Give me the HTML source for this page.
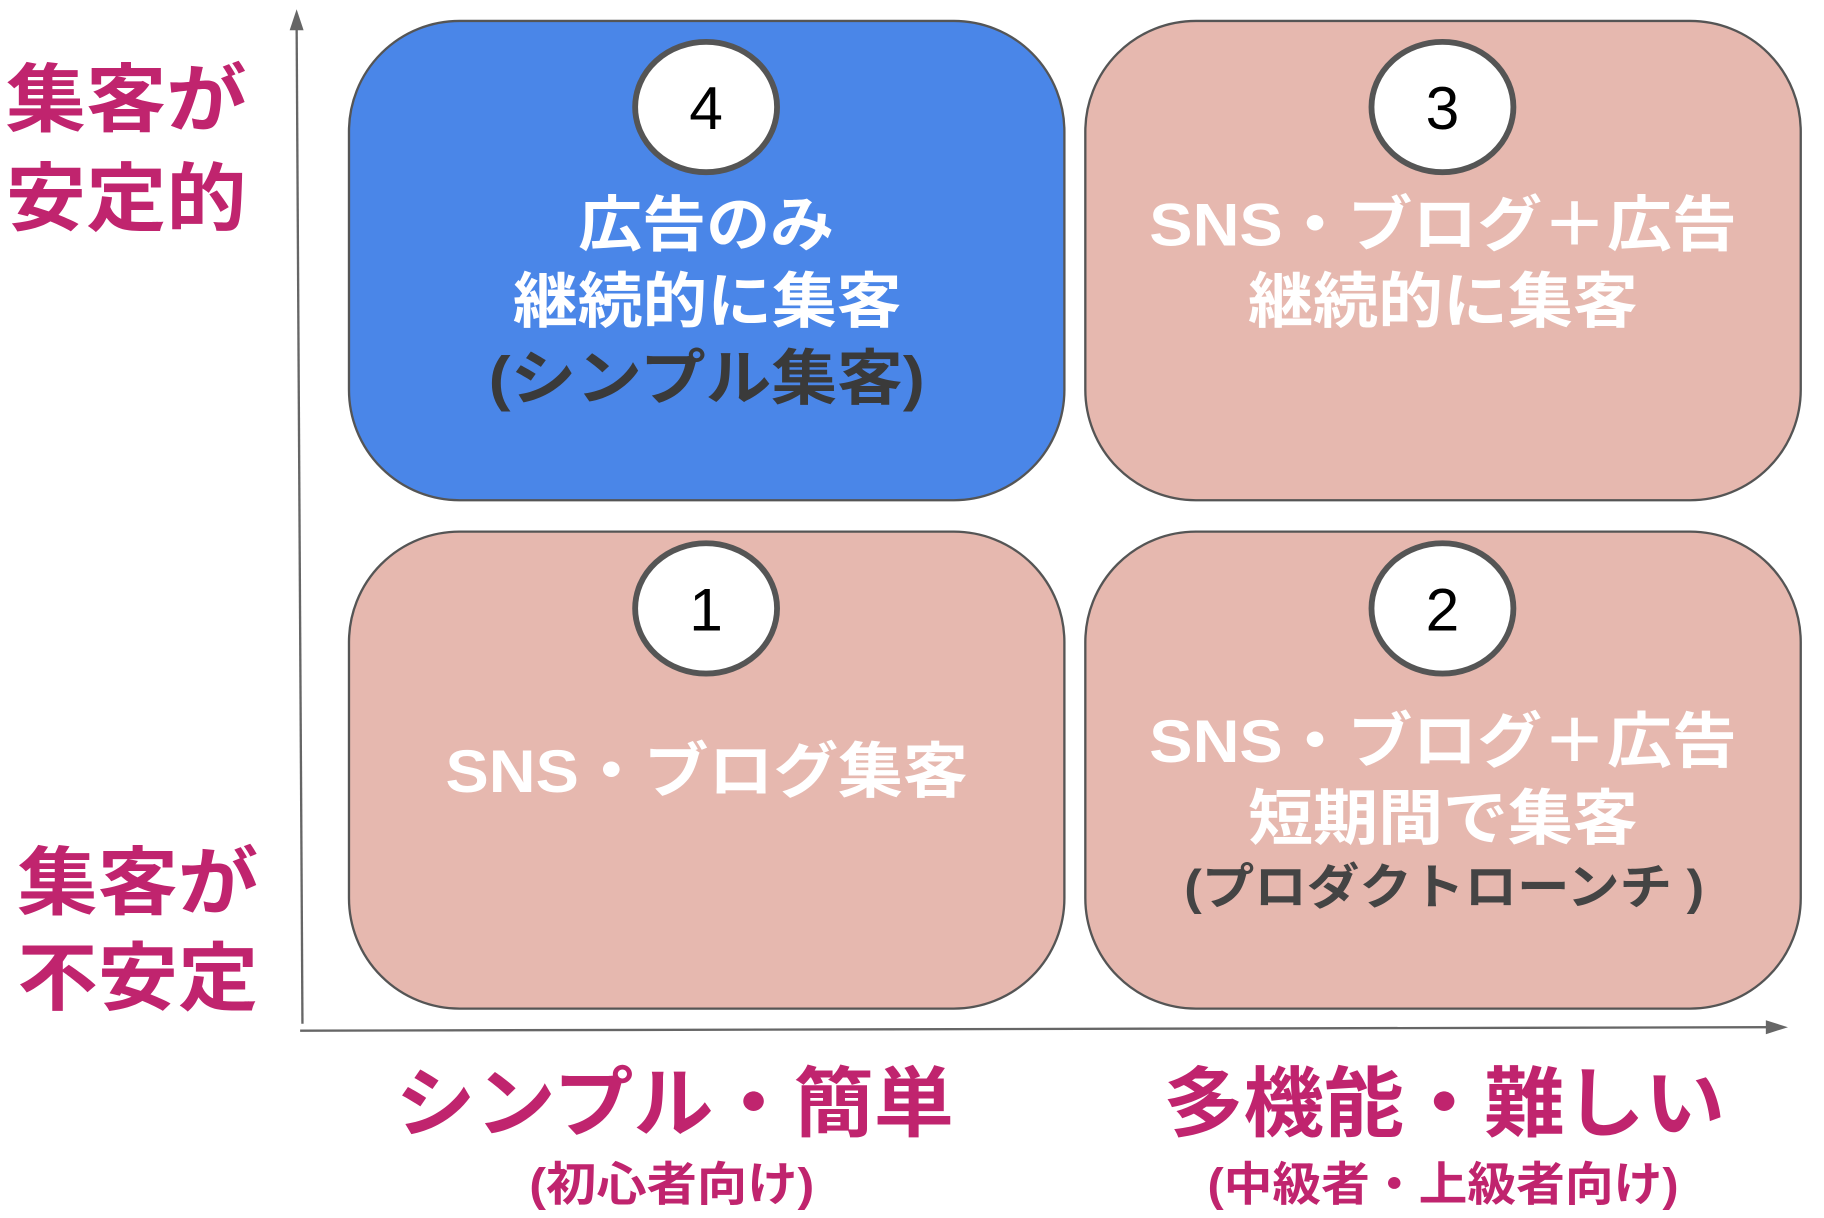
<!DOCTYPE html>
<html><head><meta charset="utf-8"><style>
html,body{margin:0;padding:0;background:#fff;}
svg{display:block;}
text{font-family:"Liberation Sans","Noto Sans CJK JP",sans-serif;font-weight:bold;}
</style></head><body>
<svg width="1824" height="1218" viewBox="0 0 1568 1047" preserveAspectRatio="none" xmlns="http://www.w3.org/2000/svg">
<line x1="255" y1="22" x2="260" y2="880" stroke="#666" stroke-width="2"/>
<polygon points="255,8 249,26 261,26" fill="#666"/>
<line x1="258" y1="886" x2="1522" y2="883" stroke="#666" stroke-width="2"/>
<polygon points="1537,883 1518,877 1518,889" fill="#666"/>
<rect x="300" y="18" width="615" height="412" rx="95" fill="#4a86e8" stroke="#555" stroke-width="2"/>
<rect x="933" y="18" width="615" height="412" rx="95" fill="#e6b8af" stroke="#555" stroke-width="2"/>
<rect x="300" y="457" width="615" height="410" rx="95" fill="#e6b8af" stroke="#555" stroke-width="2"/>
<rect x="933" y="457" width="615" height="410" rx="95" fill="#e6b8af" stroke="#555" stroke-width="2"/>
<g fill="#fff" stroke="#555" stroke-width="5">
<ellipse cx="607" cy="92" rx="61" ry="56"/>
<ellipse cx="1240" cy="92" rx="61" ry="56"/>
<ellipse cx="607" cy="523" rx="61" ry="56"/>
<ellipse cx="1240" cy="523" rx="61" ry="56"/>
</g>
<g font-size="52" fill="#000" text-anchor="middle">
<text x="607" y="111" style="font-weight:normal">4</text>
<text x="1240" y="111" style="font-weight:normal">3</text>
<text x="607" y="542" style="font-weight:normal">1</text>
<text x="1240" y="542" style="font-weight:normal">2</text>
</g>
<g font-size="52" fill="#fff">
<text x="497" y="211" textLength="220" lengthAdjust="spacingAndGlyphs">広告のみ</text>
<text x="441" y="277" textLength="334" lengthAdjust="spacingAndGlyphs">継続的に集客</text>
<text x="420" y="343" fill="#3a3a3a" textLength="375" lengthAdjust="spacingAndGlyphs">(シンプル集客)</text>
<text x="988" y="211" textLength="505" lengthAdjust="spacingAndGlyphs">SNS・ブログ＋広告</text>
<text x="1073" y="277" textLength="335" lengthAdjust="spacingAndGlyphs">継続的に集客</text>
<text x="383" y="681" textLength="449" lengthAdjust="spacingAndGlyphs">SNS・ブログ集客</text>
<text x="988" y="655" textLength="505" lengthAdjust="spacingAndGlyphs">SNS・ブログ＋広告</text>
<text x="1073" y="721" textLength="335" lengthAdjust="spacingAndGlyphs">短期間で集客</text>
<text x="1018" y="777" font-size="42" fill="#444" textLength="447" lengthAdjust="spacingAndGlyphs">(プロダクトローンチ )</text>
</g>
<g font-size="64" fill="#c0246e">
<text x="5" y="108" textLength="207" lengthAdjust="spacingAndGlyphs">集客が</text>
<text x="5" y="193" textLength="207" lengthAdjust="spacingAndGlyphs">安定的</text>
<text x="15" y="781" textLength="207" lengthAdjust="spacingAndGlyphs">集客が</text>
<text x="15" y="863" textLength="207" lengthAdjust="spacingAndGlyphs">不安定</text>
</g>
<g fill="#c0246e">
<text x="340" y="972" font-size="66" textLength="480" lengthAdjust="spacingAndGlyphs">シンプル・簡単</text>
<text x="455" y="1032" font-size="40" textLength="245" lengthAdjust="spacingAndGlyphs">(初心者向け)</text>
<text x="1000" y="972" font-size="66" textLength="483" lengthAdjust="spacingAndGlyphs">多機能・難しい</text>
<text x="1038" y="1032" font-size="40" textLength="405" lengthAdjust="spacingAndGlyphs">(中級者・上級者向け)</text>
</g>
</svg>
</body></html>
